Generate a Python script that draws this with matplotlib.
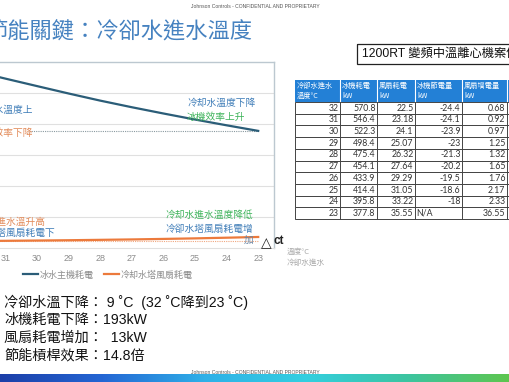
#!/usr/bin/env python3
import numpy as np
import matplotlib
matplotlib.use("Agg")
import matplotlib.pyplot as plt
from matplotlib.patches import Rectangle
from matplotlib.colors import LinearSegmentedColormap

plt.rcParams['font.family'] = ['Noto Sans CJK TC', 'DejaVu Sans']

# data (1200RT case)
temps = [32, 31, 30, 29, 28, 27, 26, 25, 24, 23]
chiller_kw = [570.8, 546.4, 522.3, 498.4, 475.4, 454.1, 433.9, 414.4, 395.8, 377.8]
fan_kw = [22.5, 23.18, 24.1, 25.07, 26.32, 27.64, 29.29, 31.05, 33.22, 35.55]
chiller_save = ['-24.4', '-24.1', '-23.9', '-23', '-21.3', '-20.2', '-19.5', '-18.6', '-18', 'N/A']
fan_add = ['0.68', '0.92', '0.97', '1.25', '1.32', '1.65', '1.76', '2.17', '2.33', '36.55']
fan_str = ['22.5', '23.18', '24.1', '25.07', '26.32', '27.64', '29.29', '31.05', '33.22', '35.55']
headers = ['冷卻水進水\n溫度°C', '冰機耗電\nkW', '風扇耗電\nkW', '冰機節電量\nkW', '風扇增電量\nkW', '節能\n倍數']
series_names = ['冰水主機耗電', '冷却水塔風扇耗電']
summary = ['冷卻水溫下降： 9 ˚C  (32 ˚C降到23 ˚C)',
           '冰機耗電下降：193kW',
           '風扇耗電增加：  13kW',
           '節能槓桿效果：14.8倍']

W, H = 510, 382
BLUE = '#2b5d78'
ORANGE = '#ec7a3c'
TXT_BLUE = '#3f7db8'
TXT_ORANGE = '#e28a58'
TXT_GREEN = '#3db35a'

fig = plt.figure(figsize=(W / 100, H / 100), dpi=100)

# ---- line chart (left part of the slide, cropped on the left) ----
ax = fig.add_axes([-42 / W, 1 - 248 / H, 316 / W, 186 / H])
x = np.arange(len(temps))
ax.plot(x, chiller_kw, color=BLUE, lw=1.6, label=series_names[0], zorder=3)
ax.plot(x, fan_kw, color=ORANGE, lw=1.6, label=series_names[1], zorder=3)
ax.hlines(chiller_kw[-1], 1.75, x[-1], colors='#8a9aa0', linestyles=(0, (1, 1)), lw=0.8)
ax.hlines(fan_kw[0], -0.5, x[-1], colors='#f0a880', linestyles=(0, (1, 1)), lw=0.8)
ax.set_xlim(-0.5, len(temps) - 0.5)
ax.set_ylim(0, 600)
ax.set_yticks(range(100, 600, 100))
ax.yaxis.grid(True, color='#e0e0e0', lw=0.8)
ax.set_axisbelow(True)
ax.set_xticks(x)
ax.set_xticklabels([str(t) for t in temps], family='Liberation Sans', fontsize=6.5, color='#8c8c8c')
ax.tick_params(axis='x', length=0, pad=4)
ax.tick_params(axis='y', length=0, labelleft=False)
ax.spines['left'].set_visible(False)
for s in ['top', 'right']:
    ax.spines[s].set_color('#bcc8d0')
    ax.spines[s].set_linewidth(1.0)
ax.spines['bottom'].set_color('#e0e0e0')
ax.set_facecolor('none')
leg = ax.legend(loc='center', bbox_to_anchor=((108 + 42) / 316, (248 - 275) / 186), ncol=2,
                frameon=False, fontsize=6.5, handlelength=1.6, handletextpad=0.2, columnspacing=1.2)
for t in leg.get_texts():
    t.set_color('#8c8c8c')

# ---- overlay canvas in pixel coordinates ----
cv = fig.add_axes([0, 0, 1, 1], zorder=5)
cv.set_xlim(0, W)
cv.set_ylim(H, 0)
cv.axis('off')
cv.patch.set_alpha(0)


def txt(xp, yp, s, **kw):
    cv.text(xp, yp, s, va='center', **kw)


# header / title
txt(255, 7, 'Johnson Controls - CONFIDENTIAL AND PROPRIETARY', ha='center', fontsize=3.6,
    color='#555555', family='Liberation Sans')
txt(252, 31, '節能關鍵：冷卻水進水溫度', ha='right', fontsize=16, color='#4682c0')

# chart annotations
fs = 7
txt(33, 110, '冷卻水溫度上', ha='right', fontsize=fs, color=TXT_BLUE)
txt(33, 133, '冰機效率下降', ha='right', fontsize=fs, color=TXT_ORANGE)
txt(45, 222, '冷卻水進水溫升高', ha='right', fontsize=fs, color=TXT_ORANGE)
txt(55, 233, '冷卻水塔風扇耗電下', ha='right', fontsize=fs, color=TXT_BLUE)
txt(187, 103, '冷却水溫度下降', ha='left', fontsize=fs, color=TXT_BLUE)
txt(187, 117, '冰機效率上升', ha='left', fontsize=fs, color=TXT_GREEN)
txt(165, 215, '冷却水進水溫度降低', ha='left', fontsize=fs, color=TXT_GREEN)
txt(165, 229, '冷卻水塔風扇耗電增', ha='left', fontsize=fs, color=TXT_BLUE)
txt(254, 240, '加', ha='right', fontsize=fs, color='#6a86a4')
txt(261, 243, '△', ha='left', fontsize=10, color='#222222', family='DejaVu Sans')
txt(274, 241, 'ct', ha='left', fontsize=8.5, color='#222222', family='Liberation Sans',
    weight='bold')
txt(287, 252, '溫度°C', ha='left', fontsize=5.5, color='#a8a8a8')
txt(287, 263, '冷卻水進水', ha='left', fontsize=5.5, color='#a8a8a8')

# case title box
cv.add_patch(Rectangle((357, 44), 170, 20, fill=False, ec='#222222', lw=0.9, clip_on=False))
txt(362, 54, '1200RT 變頻中溫離心機案例', ha='left', fontsize=8.8, color='#111111',
    family=['Liberation Sans', 'Noto Sans CJK TC'])

# table
cols = [295, 340, 377, 415, 462, 507, 560]
top, hdr_h, row_h = 80, 22, 11.7
cv.add_patch(Rectangle((cols[0], top), cols[-1] - cols[0], hdr_h, fc='#2380d6', ec='none'))
for i, hname in enumerate(headers):
    txt(cols[i] + 2, top + hdr_h / 2, hname, ha='left', fontsize=5.2, color='white',
        linespacing=1.5)
    if i > 0:
        cv.plot([cols[i], cols[i]], [top, top + hdr_h], color='white', lw=0.8)
rows = list(zip([str(t) for t in temps], [f'{v}' for v in chiller_kw], fan_str,
                chiller_save, fan_add))
for r, vals in enumerate(rows):
    y0 = top + hdr_h + r * row_h
    cv.add_patch(Rectangle((cols[0], y0), cols[-1] - cols[0], row_h, fc='white',
                           ec='#444444', lw=0.7, clip_on=True))
    for c in range(1, len(cols) - 1):
        cv.plot([cols[c], cols[c]], [y0, y0 + row_h], color='#444444', lw=0.7)
    for c, v in enumerate(vals):
        if v == 'N/A':
            txt(cols[c] + 1.5, y0 + row_h / 2 + 0.3, v, ha='left', fontsize=6.3,
                color='#333333', family='Lato')
        else:
            txt(cols[c + 1] - 1.5, y0 + row_h / 2 + 0.3, v, ha='right', fontsize=6.3,
                color='#333333', family='Lato')
    if r == len(rows) - 1:
        txt(cols[5] + 1.5, y0 + row_h / 2 + 0.3, 'N/A', ha='left', fontsize=6.3,
            color='#333333', family='Lato')

# summary text
for i, line in enumerate(summary):
    txt(4, 302 + i * 18, line, ha='left', fontsize=10.2, color='#111111',
        family=['Liberation Sans', 'Noto Sans CJK TC'])

# bottom gradient bar + footer
grad = LinearSegmentedColormap.from_list('bar', ['#1c3fa8', '#2466d4', '#2fb0e8',
                                                 '#33cfe0', '#3cc4a0', '#5ec64e'])
cv.imshow(np.linspace(0, 1, 256).reshape(1, -1), cmap=grad, aspect='auto',
          extent=(0, W, H, 374), zorder=1)
txt(255, 372, 'Johnson Controls - CONFIDENTIAL AND PROPRIETARY', ha='center', fontsize=3.6,
    color='#555555', family='Liberation Sans', zorder=2)
cv.set_xlim(0, W)
cv.set_ylim(H, 0)

fig.savefig('out.png', dpi=100)
